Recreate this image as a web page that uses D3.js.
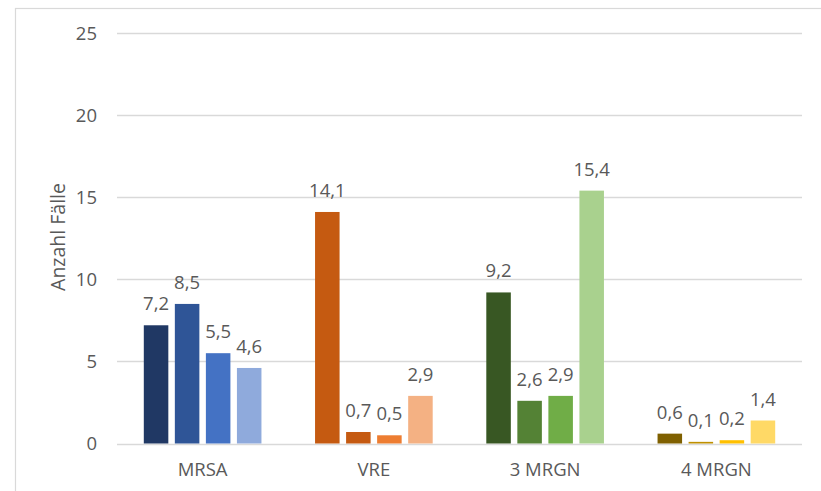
<!DOCTYPE html>
<html><head><meta charset="utf-8">
<script src="https://cdn.jsdelivr.net/npm/d3@7"></script>
<style>body{margin:0;background:#fff;}svg{display:block;font-family:"Open Sans",sans-serif;}</style>
</head><body>
<svg id="c" width="821" height="491"></svg>
<script>
const categories = ["MRSA", "VRE", "3 MRGN", "4 MRGN"];
const seriesKeys = ["s1", "s2", "s3", "s4"];
const values = [
  [7.2, 8.5, 5.5, 4.6],
  [14.1, 0.7, 0.5, 2.9],
  [9.2, 2.6, 2.9, 15.4],
  [0.6, 0.1, 0.2, 1.4]
];
const colors = [
  ["#203864", "#2F5597", "#4472C4", "#8FAADC"],
  ["#C55A11", "#C55A11", "#ED7D31", "#F4B183"],
  ["#385723", "#548235", "#70AD47", "#A9D18E"],
  ["#7F6000", "#BF9000", "#FFC000", "#FFD966"]
];
const yTicks = [0, 5, 10, 15, 20, 25];
const yTitle = "Anzahl Fälle";

const svg = d3.select("#c");
// outer frame (cropped)
svg.append("rect").attr("x", 15.5).attr("y", 8.5).attr("width", 900).attr("height", 600)
  .attr("fill", "none").attr("stroke", "#d9d9d9").attr("stroke-width", 1.2);

const L = 117, R = 802;
const y = d3.scaleLinear().domain([0, 25]).range([443.5, 33]);
const x0 = d3.scaleBand().domain(categories).range([L, R]).paddingInner(0.313).paddingOuter(0.1565);
const x1 = d3.scaleBand().domain(seriesKeys).range([0, x0.bandwidth()]).paddingInner(0.21).paddingOuter(0);

// gridlines
svg.append("g").selectAll("line").data(yTicks).join("line")
  .attr("x1", L).attr("x2", R)
  .attr("y1", d => Math.round(y(d)) + 0.5).attr("y2", d => Math.round(y(d)) + 0.5)
  .attr("stroke", "#d9d9d9").attr("stroke-width", 1.3);

// y tick labels
svg.append("g").selectAll("text").data(yTicks).join("text")
  .attr("x", 97).attr("y", d => y(d) + 6.8)
  .attr("text-anchor", "end").attr("font-size", 18.5).attr("fill", "#595959")
  .text(d => d);

// y title
svg.append("text").attr("transform", "translate(65,237) rotate(-90)")
  .attr("text-anchor", "middle").attr("font-size", 19.5).attr("fill", "#595959").text(yTitle);

// bars
const groups = svg.append("g").selectAll("g").data(categories).join("g")
  .attr("transform", d => `translate(${x0(d)},0)`);
groups.each(function(cat, ci) {
  const g = d3.select(this);
  const data = seriesKeys.map((k, si) => ({k, v: values[ci][si], c: colors[ci][si]}));
  g.selectAll("rect").data(data).join("rect")
    .attr("x", d => x1(d.k)).attr("width", x1.bandwidth())
    .attr("y", d => y(d.v)).attr("height", d => y(0) - y(d.v))
    .attr("fill", d => d.c);
  g.selectAll("text").data(data).join("text")
    .attr("x", d => x1(d.k) + x1.bandwidth() / 2).attr("y", d => y(d.v) - 15)
    .attr("text-anchor", "middle").attr("font-size", 18.5).attr("fill", "#595959")
    .text(d => d3.format(".1f")(d.v).replace(".", ","));
});

// x labels
svg.append("g").selectAll("text").data(categories).join("text")
  .attr("x", d => x0(d) + x0.bandwidth() / 2).attr("y", 476)
  .attr("text-anchor", "middle").attr("font-size", 18.5).attr("fill", "#595959")
  .text(d => d);
</script>
</body></html>
